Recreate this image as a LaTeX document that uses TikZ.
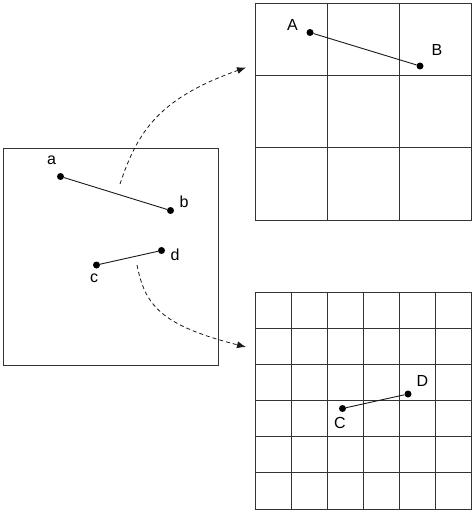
\documentclass[tikz,border=0pt]{standalone}
\usepackage{fontspec}
\setmainfont{Liberation Sans}
\usetikzlibrary{arrows.meta}
\begin{document}
\begin{tikzpicture}[x=1pt,y=-1pt,
  frame/.style={draw=black!80,line width=1pt},
  gridline/.style={draw=black!80,line width=1pt},
  pt/.style={circle,fill=black,inner sep=0pt,minimum size=7pt},
  seg/.style={draw=black!90,line width=0.9pt},
  lbl/.style={inner sep=0pt,font=\fontsize{16}{18}\selectfont},
  flow/.style={draw=black!90,line width=0.8pt,dashed,dash pattern=on 4pt off 3pt,-{Latex[length=9pt,width=7pt]}}]
\useasboundingbox (0,0) rectangle (474,511);
% left square
\draw[frame] (3,148) rectangle (218,365);
% top-right 3x3 grid
\draw[gridline] (255.5,3.5) rectangle (471,220);
\draw[gridline] (327,3.5) -- (327,220) (399.5,3.5) -- (399.5,220);
\draw[gridline] (255.5,75.5) -- (471,75.5) (255.5,147.5) -- (471,147.5);
% bottom-right 6x6 grid
\draw[gridline] (255.5,292) rectangle (471,509);
\foreach \x in {291.5,327.5,363.5,399.5,435.5} \draw[gridline] (\x,292) -- (\x,509);
\foreach \y in {328,364,400,436.5,472.5} \draw[gridline] (255.5,\y) -- (471,\y);
% points
\node[pt] (a) at (60.5,176.5) {};
\node[pt] (b) at (170.5,210.5) {};
\node[pt] (c) at (96.5,265) {};
\node[pt] (d) at (161.5,250.5) {};
\node[pt] (A) at (310,32.5) {};
\node[pt] (B) at (420,66) {};
\node[pt] (C) at (342.5,408.5) {};
\node[pt] (D) at (408,394) {};
\draw[seg] (a) -- (b);
\draw[seg] (c) -- (d);
\draw[seg] (A) -- (B);
\draw[seg] (C) -- (D);
% labels
\node[lbl] (la) at (51.5,160.5) {a};
\node[lbl] (lb) at (184,202) {b};
\node[lbl] (lc) at (94,278.5) {c};
\node[lbl] (ld) at (175,255) {d};
\node[lbl] (lA) at (292.5,24.5) {A};
\node[lbl] (lB) at (437,50) {B};
\node[lbl] (lC) at (340,422.5) {C};
\node[lbl] (lD) at (422.5,381) {D};
% dashed arrows
\coordinate (s1) at (120,184);
\coordinate (e1) at (246,67.5);
\coordinate (s2) at (137,265);
\coordinate (e2) at (246,347);
\draw[flow] (s1) .. controls (138,130) and (160,98) .. (e1);
\draw[flow] (s2) .. controls (145,305) and (160,325) .. (e2);
\end{tikzpicture}
\end{document}
